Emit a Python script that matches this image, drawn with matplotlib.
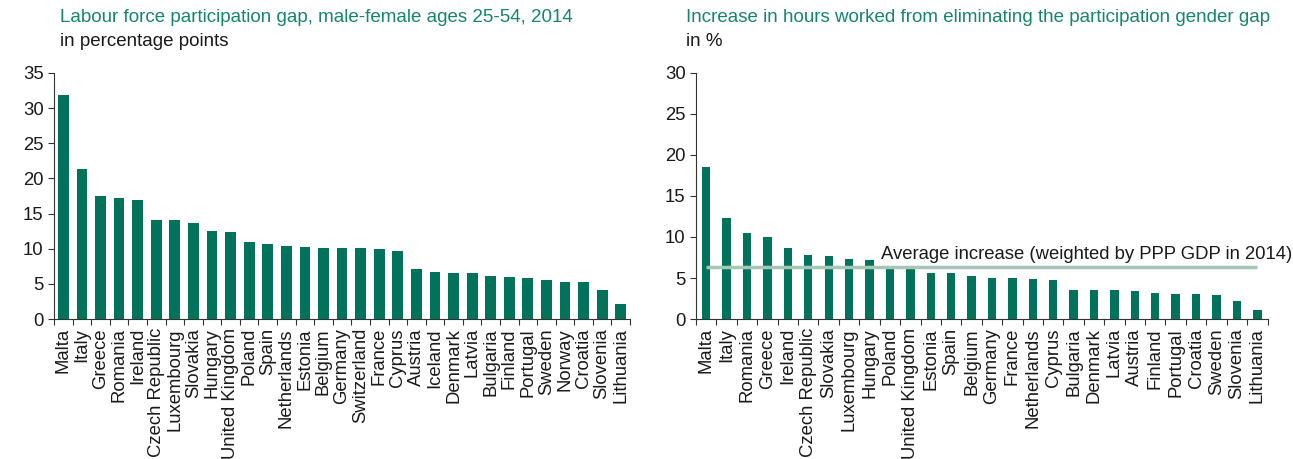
import numpy as np
import matplotlib
matplotlib.use("Agg")
import matplotlib.pyplot as plt

plt.rcParams['font.family'] = ['Liberation Sans', 'DejaVu Sans']

# left panel: labour force participation gap (percentage points)
paises_gap = ['Malta', 'Italy', 'Greece', 'Romania', 'Ireland', 'Czech Republic',
              'Luxembourg', 'Slovakia', 'Hungary', 'United Kingdom', 'Poland', 'Spain',
              'Netherlands', 'Estonia', 'Belgium', 'Germany', 'Switzerland', 'France',
              'Cyprus', 'Austria', 'Iceland', 'Denmark', 'Latvia', 'Bulgaria', 'Finland',
              'Portugal', 'Sweden', 'Norway', 'Croatia', 'Slovenia', 'Lithuania']
valores_gap = [31.8, 21.3, 17.5, 17.2, 16.95, 14.05, 14.05, 13.7, 12.5, 12.35, 10.95,
               10.6, 10.35, 10.25, 10.15, 10.15, 10.15, 9.9, 9.7, 7.1, 6.75, 6.55, 6.55,
               6.1, 6.0, 5.9, 5.55, 5.3, 5.2, 4.1, 2.2]

# right panel: increase in hours worked (%)
paises_horas = ['Malta', 'Italy', 'Romania', 'Greece', 'Ireland', 'Czech Republic',
                'Slovakia', 'Luxembourg', 'Hungary', 'Poland', 'United Kingdom', 'Estonia',
                'Spain', 'Belgium', 'Germany', 'France', 'Netherlands', 'Cyprus',
                'Bulgaria', 'Denmark', 'Latvia', 'Austria', 'Finland', 'Portugal',
                'Croatia', 'Sweden', 'Slovenia', 'Lithuania']
valores_horas = [18.5, 12.35, 10.45, 9.97, 8.67, 7.8, 7.7, 7.37, 7.16, 6.25, 6.1, 5.66,
                 5.66, 5.25, 5.0, 5.0, 4.84, 4.72, 3.58, 3.5, 3.5, 3.42, 3.2, 3.0, 3.0,
                 2.9, 2.2, 1.1]
promedio = 6.3

verde = '#00735a'
verde_titulo = '#14876a'
gris_linea = '#a7c6b6'
tam = 13.3


def panel(ax, paises, valores, ancho, ymax):
    n = len(paises)
    x = np.arange(n)
    ax.bar(x, valores, width=ancho, color=verde, zorder=2)
    ax.set_xlim(-0.5, n - 0.5)
    ax.set_ylim(0, ymax)
    ax.set_yticks(np.arange(0, ymax + 1, 5))
    ax.set_xticks(x)
    ax.set_xticklabels(paises, rotation=90, fontsize=tam, color='#1a1a1a')
    ax.set_xticks(np.arange(-0.5, n, 1), minor=True)
    ax.tick_params(axis='x', which='major', length=0, pad=6.5)
    ax.tick_params(axis='x', which='minor', length=4, width=0.8, color='#333333')
    ax.tick_params(axis='y', length=4, width=0.8, color='#333333', labelsize=tam,
                   labelcolor='#1a1a1a', pad=3.5)
    for lado in ['top', 'right']:
        ax.spines[lado].set_visible(False)
    for lado in ['left', 'bottom']:
        ax.spines[lado].set_color('#333333')
        ax.spines[lado].set_linewidth(0.8)


fig = plt.figure(figsize=(12.93, 4.59), dpi=100)

ax1 = fig.add_axes([0.0418, 0.305, 0.4455, 0.536])
panel(ax1, paises_gap, valores_gap, 0.58, 35)

ax2 = fig.add_axes([0.5383, 0.305, 0.442, 0.536])
panel(ax2, paises_horas, valores_horas, 0.41, 30)
ax2.hlines(promedio, 0, len(paises_horas) - 1, color=gris_linea, linewidth=2.5, zorder=3)
ax2.text(8.55, promedio + 1.6, 'Average increase (weighted by PPP GDP in 2014)',
         fontsize=tam, color='#1a1a1a', va='center', ha='left', zorder=4)

fig.text(60 / 1293, 1 - 18 / 459, 'Labour force participation gap, male-female ages 25-54, 2014',
         fontsize=13.5, color=verde_titulo, va='center', ha='left')
fig.text(60 / 1293, 1 - 42 / 459, 'in percentage points',
         fontsize=13.5, color='#1a1a1a', va='center', ha='left')
fig.text(686 / 1293, 1 - 18 / 459, 'Increase in hours worked from eliminating the participation gender gap',
         fontsize=13.5, color=verde_titulo, va='center', ha='left')
fig.text(686 / 1293, 1 - 42 / 459, 'in %',
         fontsize=13.5, color='#1a1a1a', va='center', ha='left')

fig.savefig('out.png', dpi=100)
